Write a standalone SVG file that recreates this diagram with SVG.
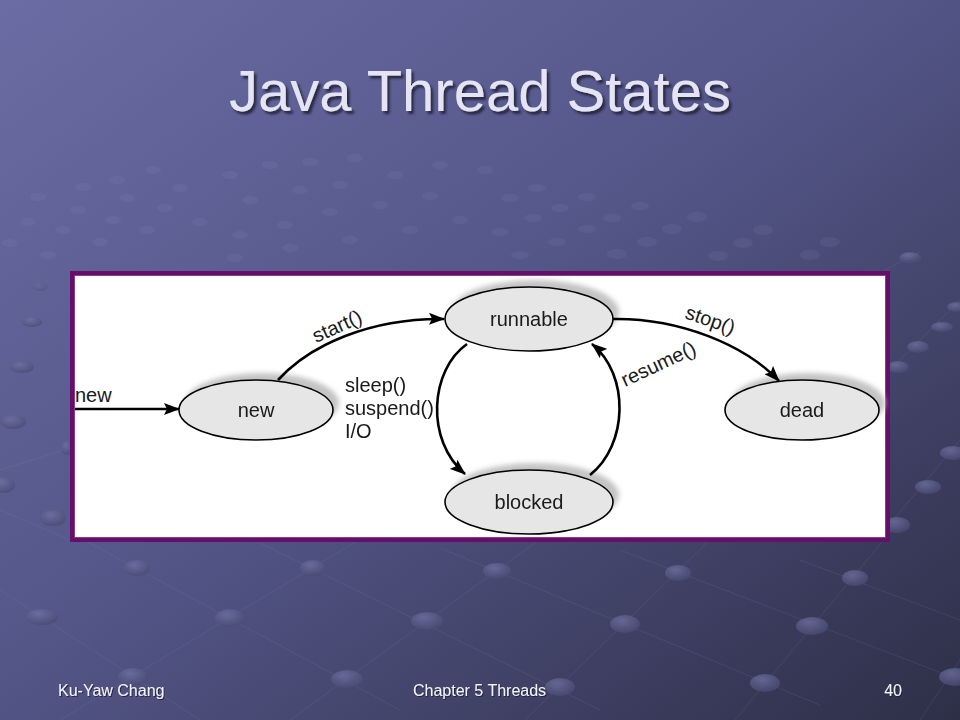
<svg xmlns="http://www.w3.org/2000/svg" width="960" height="720" viewBox="0 0 960 720">
<defs>
<linearGradient id="bg" x1="0" y1="0" x2="1" y2="1">
<stop offset="0" stop-color="#6b6ca3"/>
<stop offset="0.45" stop-color="#55578a"/>
<stop offset="1" stop-color="#2e2f47"/>
</linearGradient>
<radialGradient id="dot" cx="0.4" cy="0.3" r="0.7">
<stop offset="0" stop-color="#7174a4"/>
<stop offset="1" stop-color="#4a4c74"/>
</radialGradient>
<filter id="blur" x="-20%" y="-30%" width="140%" height="160%"><feGaussianBlur stdDeviation="2.5"/></filter>
<filter id="tshadow" x="-5%" y="-20%" width="115%" height="150%"><feDropShadow dx="2.5" dy="3" stdDeviation="1" flood-color="#1c1c34" flood-opacity="0.85"/></filter>
<filter id="fshadow" x="-5%" y="-20%" width="115%" height="150%"><feDropShadow dx="1" dy="1" stdDeviation="0.5" flood-color="#1c1c30" flood-opacity="0.8"/></filter>
<marker id="arr" viewBox="0 0 16 12" refX="15" refY="6" markerWidth="16" markerHeight="12" markerUnits="userSpaceOnUse" orient="auto">
<path d="M0,0 L16,6 L0,12 L3,6 Z" fill="#000"/>
</marker>
</defs>
<style>
.title{font-family:"Liberation Sans",Arial,sans-serif;font-size:58px;text-anchor:middle;fill:#e4e4f4;filter:url(#tshadow)}
.foot{font-family:"Liberation Sans",Arial,sans-serif;font-size:16px;fill:#f2f2f8;filter:url(#fshadow)}
.lbl{font-family:"Liberation Sans",Arial,sans-serif;font-size:20px;fill:#1a1a1a}
.node{fill:#e6e6e6;stroke:#000;stroke-width:1.6}
.shadow{fill:#c4c4c4;filter:url(#blur)}
.conn{fill:none;stroke:#000;stroke-width:2.6;marker-end:url(#arr)}
.bdot{fill:url(#dot);opacity:0.75}
.fdot{fill:#9a9cd0;opacity:0.1}
.gl{stroke:#8a8cc0;stroke-width:1;opacity:0.15;fill:none}
</style>

<rect width="960" height="720" fill="url(#bg)"/>

<g id="background-pattern">
<g class="gl">
<line x1="60" y1="720" x2="380" y2="527"/>
<line x1="290" y1="720" x2="560" y2="525"/>
<line x1="520" y1="725" x2="720" y2="530"/>
<line x1="735" y1="720" x2="900" y2="520"/>
<line x1="920" y1="720" x2="960" y2="660"/>
<line x1="0" y1="590" x2="200" y2="720"/>
<line x1="80" y1="538" x2="400" y2="710"/>
<line x1="260" y1="543" x2="600" y2="710"/>
<line x1="440" y1="548" x2="820" y2="705"/>
<line x1="620" y1="550" x2="960" y2="680"/>
<line x1="800" y1="560" x2="960" y2="620"/>
<line x1="0" y1="470" x2="70" y2="448"/>
<line x1="0" y1="510" x2="70" y2="540"/>
<line x1="885" y1="530" x2="960" y2="440"/>
<line x1="885" y1="375" x2="960" y2="300"/>
<line x1="885" y1="270" x2="920" y2="252"/>
</g>
<g class="fdot">
<ellipse cx="38" cy="197" rx="8" ry="4"/><ellipse cx="83" cy="187" rx="8" ry="4"/><ellipse cx="117" cy="180" rx="8" ry="4"/><ellipse cx="153" cy="170" rx="8" ry="4"/>
<ellipse cx="28" cy="222" rx="8" ry="4"/><ellipse cx="78" cy="210" rx="8" ry="4"/><ellipse cx="127" cy="198" rx="8" ry="4"/><ellipse cx="180" cy="188" rx="8" ry="4"/>
<ellipse cx="10" cy="243" rx="8" ry="4"/><ellipse cx="63" cy="230" rx="8" ry="4"/><ellipse cx="113" cy="220" rx="8" ry="4"/><ellipse cx="165" cy="208" rx="8" ry="4"/>
<ellipse cx="48" cy="255" rx="8" ry="4"/><ellipse cx="100" cy="242" rx="8" ry="4"/><ellipse cx="147" cy="230" rx="8" ry="4"/><ellipse cx="200" cy="222" rx="8" ry="4"/>
<ellipse cx="230" cy="175" rx="8" ry="4"/><ellipse cx="270" cy="165" rx="8" ry="4"/><ellipse cx="310" cy="162" rx="8" ry="4"/><ellipse cx="355" cy="158" rx="8" ry="4"/>
<ellipse cx="250" cy="200" rx="8" ry="4"/><ellipse cx="300" cy="190" rx="8" ry="4"/><ellipse cx="340" cy="185" rx="8" ry="4"/><ellipse cx="395" cy="175" rx="8" ry="4"/>
<ellipse cx="240" cy="235" rx="8" ry="4"/><ellipse cx="285" cy="225" rx="8" ry="4"/><ellipse cx="330" cy="212" rx="8" ry="4"/><ellipse cx="380" cy="205" rx="8" ry="4"/><ellipse cx="430" cy="196" rx="8" ry="4"/>
<ellipse cx="235" cy="258" rx="8" ry="4"/><ellipse cx="290" cy="248" rx="8" ry="4"/><ellipse cx="350" cy="240" rx="8" ry="4"/><ellipse cx="410" cy="230" rx="8" ry="4"/><ellipse cx="460" cy="220" rx="8" ry="4"/>
<ellipse cx="537" cy="188" rx="9" ry="4"/><ellipse cx="587" cy="197" rx="9" ry="4"/><ellipse cx="640" cy="206" rx="9" ry="4"/><ellipse cx="697" cy="217" rx="10" ry="5"/><ellipse cx="763" cy="230" rx="10" ry="5"/><ellipse cx="830" cy="242" rx="10" ry="5"/><ellipse cx="910" cy="258" rx="11" ry="5"/>
<ellipse cx="510" cy="198" rx="9" ry="4"/><ellipse cx="560" cy="208" rx="9" ry="4"/><ellipse cx="612" cy="218" rx="9" ry="4"/><ellipse cx="672" cy="229" rx="10" ry="5"/><ellipse cx="743" cy="243" rx="10" ry="5"/><ellipse cx="810" cy="255" rx="10" ry="5"/>
<ellipse cx="533" cy="218" rx="9" ry="4"/><ellipse cx="587" cy="229" rx="9" ry="4"/><ellipse cx="647" cy="242" rx="10" ry="5"/><ellipse cx="718" cy="256" rx="10" ry="5"/>
<ellipse cx="500" cy="232" rx="9" ry="4"/><ellipse cx="557" cy="242" rx="9" ry="4"/><ellipse cx="617" cy="254" rx="10" ry="5"/>
<ellipse cx="520" cy="255" rx="9" ry="4"/><ellipse cx="485" cy="170" rx="8" ry="4"/><ellipse cx="440" cy="165" rx="8" ry="4"/>
</g>
<g class="bdot">
<ellipse cx="137" cy="568" rx="13" ry="8"/><ellipse cx="313" cy="568" rx="13" ry="8"/><ellipse cx="42" cy="617" rx="16" ry="8"/>
<ellipse cx="230" cy="618" rx="15" ry="9"/><ellipse cx="427" cy="621" rx="16" ry="9"/><ellipse cx="133" cy="677" rx="15" ry="9"/>
<ellipse cx="347" cy="679" rx="16" ry="9"/><ellipse cx="497" cy="571" rx="14" ry="8"/><ellipse cx="678" cy="573" rx="13" ry="8"/>
<ellipse cx="855" cy="578" rx="13" ry="8"/><ellipse cx="625" cy="624" rx="15" ry="9"/><ellipse cx="812" cy="626" rx="16" ry="9"/>
<ellipse cx="560" cy="687" rx="15" ry="9"/><ellipse cx="765" cy="683" rx="15" ry="9"/><ellipse cx="955" cy="677" rx="16" ry="9"/>
<ellipse cx="40" cy="287" rx="8" ry="4" opacity="0.5"/><ellipse cx="32" cy="322" rx="10" ry="5"/><ellipse cx="22" cy="367" rx="12" ry="6"/>
<ellipse cx="13" cy="422" rx="13" ry="7"/><ellipse cx="3" cy="485" rx="12" ry="8"/><ellipse cx="53" cy="518" rx="13" ry="8"/><ellipse cx="67" cy="448" rx="6" ry="7"/>
<ellipse cx="910" cy="257" rx="10" ry="5"/><ellipse cx="957" cy="307" rx="10" ry="5"/><ellipse cx="942" cy="327" rx="11" ry="5"/>
<ellipse cx="918" cy="347" rx="11" ry="6"/><ellipse cx="898" cy="367" rx="11" ry="6"/><ellipse cx="953" cy="453" rx="13" ry="7"/>
<ellipse cx="928" cy="487" rx="13" ry="7"/><ellipse cx="897" cy="525" rx="13" ry="8"/>
</g>
</g>

<g id="title">
<text class="title" x="480" y="111">Java Thread States</text>
</g>

<g id="panel">
<rect x="72.5" y="273.5" width="815" height="266" fill="#ffffff" stroke="#660f6a" stroke-width="5"/>
<rect x="74.5" y="275.5" width="811" height="262" fill="none" stroke="#8a3c8e" stroke-width="1"/>
</g>

<g id="shadows">
<ellipse class="shadow" cx="262" cy="403" rx="77" ry="30"/>
<ellipse class="shadow" cx="535" cy="312" rx="84" ry="32"/>
<ellipse class="shadow" cx="535" cy="495" rx="84" ry="32"/>
<ellipse class="shadow" cx="808" cy="403" rx="77" ry="30"/>
</g>

<g id="connectors">
<line class="conn" x1="75" y1="409" x2="179" y2="409"/>
<path class="conn" d="M278,380 C310,345 370,318 444,319"/>
<path class="conn" d="M613,319 C680,318 745,345 779,381"/>
<path class="conn" d="M467,344 C430,370 425,440 465,474"/>
<path class="conn" d="M590,475 C628,445 630,375 592,344"/>
<text class="lbl" x="75" y="402">new</text>
<text class="lbl" transform="translate(316,343) rotate(-24)">start()</text>
<text class="lbl" transform="translate(684,318) rotate(19)">stop()</text>
<text class="lbl" transform="translate(625,387) rotate(-25)">resume()</text>
<text class="lbl" x="345" y="392">sleep()</text>
<text class="lbl" x="345" y="415">suspend()</text>
<text class="lbl" x="345" y="438">I/O</text>
</g>

<g id="node-new">
<ellipse class="node" cx="256" cy="410" rx="77" ry="30"/>
<text class="lbl" x="256" y="417" text-anchor="middle">new</text>
</g>
<g id="node-runnable">
<ellipse class="node" cx="529" cy="319" rx="84" ry="32"/>
<text class="lbl" x="529" y="326" text-anchor="middle">runnable</text>
</g>
<g id="node-blocked">
<ellipse class="node" cx="529" cy="502" rx="84" ry="32"/>
<text class="lbl" x="529" y="509" text-anchor="middle">blocked</text>
</g>
<g id="node-dead">
<ellipse class="node" cx="802" cy="410" rx="77" ry="30"/>
<text class="lbl" x="802" y="417" text-anchor="middle">dead</text>
</g>

<g id="footer">
<text class="foot" x="58" y="696">Ku-Yaw Chang</text>
<text class="foot" x="413" y="696">Chapter 5 Threads</text>
<text class="foot" x="902" y="696" text-anchor="end">40</text>
</g>
</svg>
